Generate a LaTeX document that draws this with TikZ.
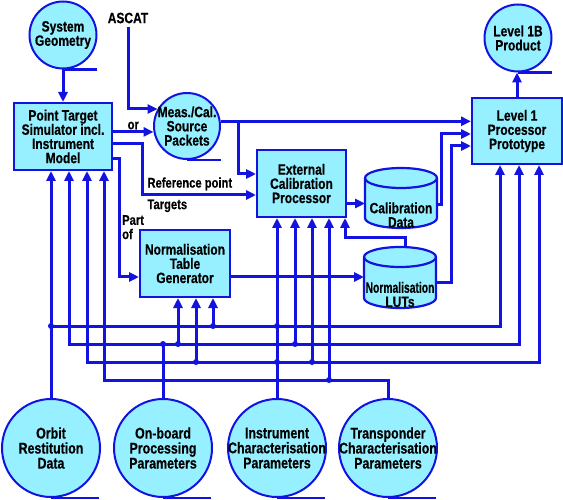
\documentclass[tikz,border=0pt]{standalone}
\usepackage{fontspec}
\setmainfont{Liberation Sans}[FakeStretch=0.8,FakeBold=0.4]
\usepackage{graphicx}
\usetikzlibrary{arrows.meta}
\definecolor{flowblue}{RGB}{18,18,225}
\definecolor{boxcyan}{RGB}{150,240,255}
\begin{document}
\begin{tikzpicture}[
   x=1pt,y=1pt,
   font=\fontsize{15}{14.2}\selectfont\bfseries,
   proc/.style={draw=flowblue,line width=2pt,fill=boxcyan,align=center,minimum width=90pt,minimum height=67pt,inner sep=2pt},
   store/.style={circle,draw=flowblue,line width=2pt,fill=boxcyan,align=center,inner sep=-6pt},
   big/.style={font=\fontsize{15.5}{15}\selectfont\bfseries},
   db/.style={rectangle,minimum width=72pt,minimum height=60pt,inner sep=0pt,outer sep=0pt},
   dbtext/.style={align=center,inner sep=0pt},
   lbl/.style={font=\fontsize{14}{14.2}\selectfont\bfseries,inner sep=1pt},
   to/.style={-{Triangle[length=10pt,width=9pt]},line width=3pt,draw=flowblue},
   twoway/.style={{Triangle[length=10pt,width=9pt]}-{Triangle[length=10pt,width=9pt]},line width=3pt,draw=flowblue},
   back/.style={{Triangle[length=10pt,width=9pt]}-,line width=3pt,draw=flowblue},
   wire/.style={line width=3pt,draw=flowblue},
   rim/.style={line width=2.2pt,draw=flowblue}]
\useasboundingbox (0,0) rectangle (563,-500);
\node[store,minimum size=67pt] (geo) at (63,-35) {System\\Geometry};
\node (ascat) at (128,-18) {ASCAT};
\node[store,minimum size=66pt] (meas) at (187,-126) {Meas./Cal.\\Source\\Packets};
\node[store,minimum size=67pt] (l1b) at (518,-38) {Level 1B\\Product};
\node[proc,minimum width=98pt] (pts) at (63,-136.5) {Point Target\\Simulator incl.\\Instrument\\Model};
\node[proc,minimum width=89pt] (ecp) at (301.5,-183.5) {External\\Calibration\\Processor};
\node[proc] (ntg) at (185,-263.5) {Normalisation\\Table\\Generator};
\node[proc,minimum height=66pt] (l1p) at (517,-131) {Level 1\\Processor\\Prototype};
\node[store,big,minimum size=98pt] (orbit) at (51,-448) {Orbit\\Restitution\\Data};
\node[store,big,minimum size=98pt] (board) at (163,-448) {On-board\\Processing\\Parameters};
\node[store,big,minimum size=98pt] (instr) at (277,-448) {Instrument\\Characterisation\\Parameters};
\node[store,big,minimum size=98pt] (transp) at (388,-448) {Transponder\\Characterisation\\Parameters};
\node[db] (cal) at (401,-198) {};
\node[db,minimum height=61pt] (lut) at (400,-277.5) {};
\draw[rim,fill=boxcyan] ([yshift=-10]cal.north west) -- ([yshift=10]cal.south west) arc[start angle=180,end angle=360,x radius=36,y radius=10] -- ([yshift=-10]cal.north east) arc[start angle=0,end angle=180,x radius=36,y radius=10] -- cycle;
\draw[rim] ([yshift=-10]cal.north west) arc[start angle=180,end angle=360,x radius=36,y radius=10];
\draw[rim,fill=boxcyan] ([yshift=-10]lut.north west) -- ([yshift=10]lut.south west) arc[start angle=180,end angle=360,x radius=36,y radius=10] -- ([yshift=-10]lut.north east) arc[start angle=0,end angle=180,x radius=36,y radius=10] -- cycle;
\draw[rim] ([yshift=-10]lut.north west) arc[start angle=180,end angle=360,x radius=36,y radius=10];
\node[dbtext] (caltext) at ([yshift=-17]cal.center) {Calibration\\Data};
\node[dbtext] (luttext) at ([yshift=-17]lut.center) {\scalebox{0.86}[1]{Normalisation}\\LUTs};
\draw[rim] (geo.south) -- ++(34,0);
\draw[rim] (meas.south) -- ++(34,0);
\draw[rim] (l1b.south) -- ++(34,0);
\draw[rim] (orbit.south) -- ++(48,0);
\draw[rim] (board.south) -- ++(48,0);
\draw[rim] (instr.south) -- ++(48,0);
\draw[rim] (transp.south) -- ++(48,0);
\draw[to] (geo.south) -- (pts.north);
\draw[to] (ascat.south) |- (meas.150);
\draw[to] (pts.east |- meas.190) -- node[lbl,above] (orlbl) {or} (meas.190);
\coordinate (reft) at (142,-195);
\draw[to] ([yshift=-7.5]pts.east) -| (reft) -- node[pos=0,lbl,anchor=south west,xshift=3pt,yshift=2pt] (reflbl) {Reference point} node[pos=0,lbl,anchor=north west,xshift=3pt,yshift=-2pt] (tgtlbl) {Targets} (reft -| ecp.west);
\coordinate (partof) at (119,-277);
\draw[to] ([yshift=-22.5]pts.east) -| (partof) -- (partof -| ntg.west);
\node[lbl,align=left,anchor=north west] (partlbl) at (121,-214) {Part\\of};
\draw[to] (meas.8) -- (meas.8 -| l1p.west);
\coordinate (tap) at (meas.8 -| 238,0);
\draw[to] (tap) |- ([yshift=9.5]ecp.west);
\draw[to] ([yshift=-20]ecp.east) -- ([yshift=-20]ecp.east -| cal.west);
\draw[to] ([yshift=-7]cal.east) -| ([xshift=-30,yshift=-3]l1p.west) -- ([yshift=-3]l1p.west);
\draw[to] ([yshift=-13.5]ntg.east) -- ([yshift=-13.5]ntg.east -| lut.west);
\draw[to] ([yshift=-5.5]lut.east) -| ([xshift=-20,yshift=-15]l1p.west) -- ([yshift=-15]l1p.west);
\coordinate (lutin) at ([xshift=-2]ecp.south east);
\draw[to] ([xshift=5]lut.north) |- (lutin |- 0,-238) -- (lutin);
\draw[to] (l1p.north) -- (l1p.north |- l1b.south);
\coordinate (bus1) at (0,-326);
\coordinate (bus2) at (0,-344);
\coordinate (bus3) at (0,-362);
\coordinate (bus4) at (0,-380);
\foreach \name/\dx in {pin1/-12,pin2/6,pin3/24,pin4/41} \coordinate (\name) at ([xshift=\dx]pts.south);
\foreach \name/\dx in {lin1/-17,lin2/2,lin3/22} \coordinate (\name) at ([xshift=\dx]l1p.south);
\foreach \name/\dx in {nin1/-7,nin2/11,nin3/28} \coordinate (\name) at ([xshift=\dx]ntg.south);
\foreach \name/\dx in {ein1/-24.5,ein2/-6.5,ein3/10.5,ein4/27.5} \coordinate (\name) at ([xshift=\dx]ecp.south);
\draw[to] (orbit.north) -- (pin1);
\draw[to] (orbit.north |- bus1) -| (lin1);
\draw[twoway] (pin2) -- (pin2 |- bus2) -| (lin2);
\draw[twoway] (pin3) -- (pin3 |- bus3) -| (lin3);
\draw[back] (pin4) -- (pin4 |- bus4) -| (transp.north);
\draw[wire] (board.north) -- (board.north |- bus2);
\draw[to] (nin1 |- bus2) -- (nin1);
\draw[to] (nin2 |- bus3) -- (nin2);
\draw[to] (nin3 |- bus1) -- (nin3);
\draw[to] (instr.north) -- (ein1);
\draw[to] (ein2 |- bus2) -- (ein2);
\draw[to] (ein3 |- bus3) -- (ein3);
\draw[to] (ein4 |- bus4) -- (ein4);
\foreach \col/\row in {orbit.north/bus1,board.north/bus2,nin1/bus2,nin2/bus3,nin3/bus1,ein1/bus1,ein1/bus3,ein2/bus2,ein3/bus3,ein4/bus4}
  \fill[flowblue] (\col |- \row) circle (3);
\end{tikzpicture}
\end{document}
